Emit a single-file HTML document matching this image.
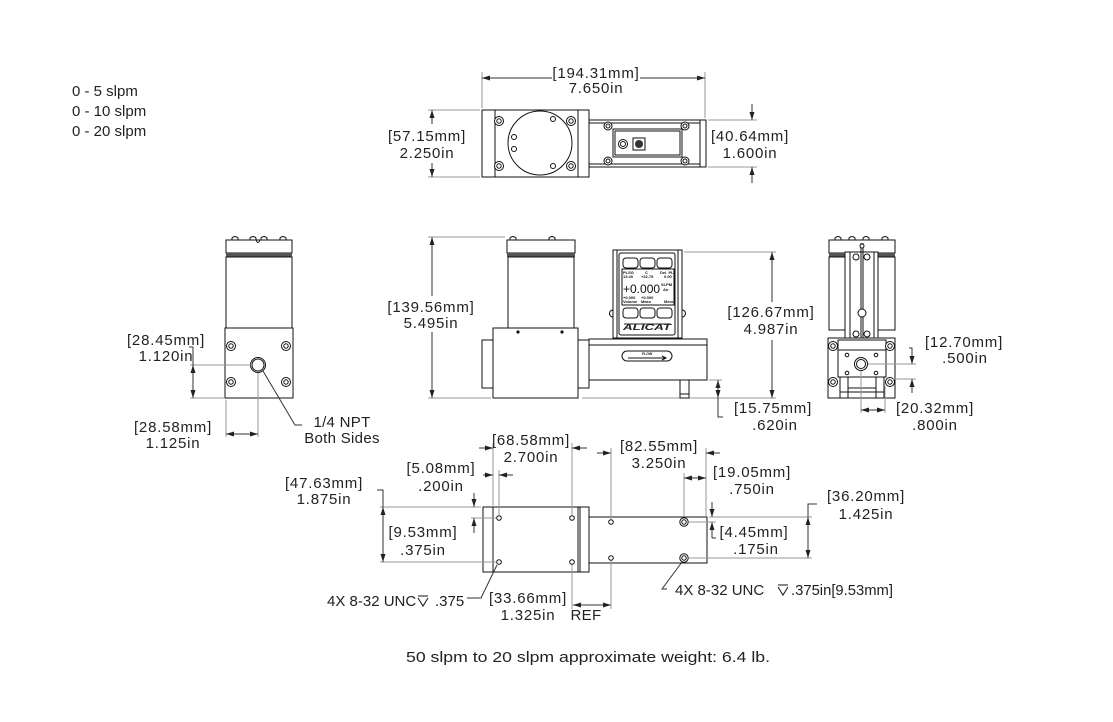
<!DOCTYPE html>
<html><head><meta charset="utf-8"><style>
html,body{margin:0;padding:0;background:#fff}
svg{display:block}
.k{stroke:#111;stroke-width:1;fill:none}
.w{stroke:#111;stroke-width:1;fill:#fff}
.e{stroke:#9a9a9a;stroke-width:1;fill:none}
.d{stroke:#333;stroke-width:1;fill:none}
.t{font-family:"Liberation Sans",sans-serif;font-size:15px;fill:#222;letter-spacing:0.8px;text-anchor:middle}
.n{font-family:"Liberation Sans",sans-serif;font-size:15px;fill:#222}
.s{font-family:"Liberation Sans",sans-serif;fill:#111;font-weight:bold}
</style></head><body>
<svg width="1113" height="722" viewBox="0 0 1113 722" xmlns="http://www.w3.org/2000/svg">
<defs>
<marker id="a" viewBox="0 0 8 5" refX="8" refY="2.5" markerWidth="8" markerHeight="5" markerUnits="userSpaceOnUse" orient="auto"><path d="M0,0 L8,2.5 L0,5 z" fill="#222"/></marker>
</defs>
<rect width="1113" height="722" fill="#fff"/>

<!-- top-left ranges -->
<text class="n" x="72" y="96">0 - 5 slpm</text>
<text class="n" x="72" y="116">0 - 10 slpm</text>
<text class="n" x="72" y="136">0 - 20 slpm</text>

<!-- ================= TOP VIEW ================= -->
<line class="e" x1="482" y1="72" x2="482" y2="108"/>
<line class="e" x1="705" y1="72" x2="705" y2="118"/>
<line class="d" x1="552" y1="78" x2="482" y2="78" marker-end="url(#a)"/>
<line class="d" x1="640" y1="78" x2="705" y2="78" marker-end="url(#a)"/>
<text class="t" x="596" y="78">[194.31mm]</text>
<text class="t" x="596" y="93">7.650in</text>

<line class="e" x1="428" y1="110" x2="480" y2="110"/>
<line class="e" x1="428" y1="177" x2="480" y2="177"/>
<line class="d" x1="432" y1="124" x2="432" y2="110" marker-end="url(#a)"/>
<line class="d" x1="432" y1="163" x2="432" y2="177" marker-end="url(#a)"/>
<text class="t" x="427" y="141">[57.15mm]</text>
<text class="t" x="427" y="158">2.250in</text>

<line class="e" x1="708" y1="120" x2="757" y2="120"/>
<line class="e" x1="708" y1="167" x2="757" y2="167"/>
<line class="d" x1="752" y1="104" x2="752" y2="120" marker-end="url(#a)"/>
<line class="d" x1="752" y1="183" x2="752" y2="167" marker-end="url(#a)"/>
<text class="t" x="750" y="141">[40.64mm]</text>
<text class="t" x="750" y="158">1.600in</text>

<!-- right body (top) -->
<rect class="w" x="589" y="120" width="117" height="47"/>
<line class="k" x1="589" y1="123" x2="700" y2="123"/>
<line class="k" x1="589" y1="164" x2="700" y2="164"/>
<line class="k" x1="700" y1="120" x2="700" y2="167"/>
<rect class="w" x="613" y="129" width="69" height="28"/>
<rect class="k" x="615" y="131" width="65" height="24"/>
<circle class="w" cx="623" cy="144" r="4.5"/><circle class="k" cx="623" cy="144" r="2.5"/>
<rect class="w" x="633" y="138" width="12" height="12" stroke-width="1.5"/>
<circle cx="639" cy="144" r="4" fill="#333"/>
<g class="w" stroke-width="1.2">
<circle cx="608" cy="126" r="4"/><circle cx="608" cy="161" r="4"/><circle cx="685" cy="126" r="4"/><circle cx="685" cy="161" r="4"/>
</g>
<g class="k"><circle cx="608" cy="126" r="2"/><circle cx="608" cy="161" r="2"/><circle cx="685" cy="126" r="2"/><circle cx="685" cy="161" r="2"/></g>
<!-- left body (top) -->
<rect class="w" x="482" y="110" width="107" height="67"/>
<line class="k" x1="495" y1="110" x2="495" y2="177"/>
<line class="k" x1="578" y1="110" x2="578" y2="177"/>
<circle class="k" cx="540" cy="143" r="32"/>
<g class="w" stroke-width="1.2">
<circle cx="499" cy="121" r="4.5"/><circle cx="571" cy="121" r="4.5"/><circle cx="499" cy="166" r="4.5"/><circle cx="571" cy="166" r="4.5"/>
</g>
<g class="k"><circle cx="499" cy="121" r="2.2"/><circle cx="571" cy="121" r="2.2"/><circle cx="499" cy="166" r="2.2"/><circle cx="571" cy="166" r="2.2"/></g>
<g class="w" stroke-width="1.3"><circle cx="553" cy="119" r="2.5"/><circle cx="553" cy="166" r="2.5"/><circle cx="514" cy="137" r="2.5"/><circle cx="514" cy="149" r="2.5"/></g>

<!-- ================= LEFT SIDE VIEW ================= -->
<g class="w">
<path d="M232,240 v-2 q3,-3 6,0 v2 z"/><path d="M250,240 v-2 q3,-3 6,0 v2 z"/><path d="M261,240 v-2 q3,-3 6,0 v2 z"/><path d="M280,240 v-2 q3,-3 6,0 v2 z"/>
</g>
<rect class="w" x="226" y="240" width="66" height="13"/>
<path class="k" d="M256,240 q2,5 4,0"/>
<rect x="226" y="253" width="66" height="4" fill="#555"/>
<rect class="w" x="226" y="257" width="66" height="71"/>
<rect class="w" x="225" y="328" width="68" height="70"/>
<g class="w" stroke-width="1.3">
<circle cx="231" cy="346" r="4.5"/><circle cx="286" cy="346" r="4.5"/><circle cx="231" cy="382" r="4.5"/><circle cx="286" cy="382" r="4.5"/>
</g>
<g class="k"><circle cx="231" cy="346" r="2.2"/><circle cx="286" cy="346" r="2.2"/><circle cx="231" cy="382" r="2.2"/><circle cx="286" cy="382" r="2.2"/></g>
<circle class="w" cx="258" cy="365" r="7.5" stroke-width="1.3"/>
<circle class="k" cx="258" cy="365" r="6"/>

<line class="e" x1="190" y1="365" x2="251" y2="365"/>
<line class="e" x1="190" y1="398" x2="224" y2="398"/>
<line class="d" x1="189" y1="347" x2="193" y2="347"/>
<line class="d" x1="193" y1="347" x2="193" y2="365"/>
<line class="d" x1="193" y1="380" x2="193" y2="365" marker-end="url(#a)"/>
<line class="d" x1="193" y1="380" x2="193" y2="398" marker-end="url(#a)"/>
<text class="t" x="166" y="345">[28.45mm]</text>
<text class="t" x="166" y="361">1.120in</text>

<line class="e" x1="226" y1="400" x2="226" y2="437"/>
<line class="e" x1="258" y1="373" x2="258" y2="437"/>
<line class="d" x1="242" y1="434" x2="226" y2="434" marker-end="url(#a)"/>
<line class="d" x1="242" y1="434" x2="258" y2="434" marker-end="url(#a)"/>
<text class="t" x="173" y="432">[28.58mm]</text>
<text class="t" x="173" y="448">1.125in</text>

<polyline class="d" points="263,371 295,425 302,425"/>
<text class="t" x="342" y="427" style="letter-spacing:0.3px">1/4 NPT</text>
<text class="t" x="342" y="443" style="letter-spacing:0.3px">Both Sides</text>

<!-- ================= FRONT VIEW ================= -->
<line class="e" x1="428" y1="237" x2="505" y2="237"/>
<line class="e" x1="428" y1="398" x2="491" y2="398"/>
<line class="d" x1="432" y1="296" x2="432" y2="237" marker-end="url(#a)"/>
<line class="d" x1="432" y1="332" x2="432" y2="398" marker-end="url(#a)"/>
<text class="t" x="431" y="312">[139.56mm]</text>
<text class="t" x="431" y="328">5.495in</text>

<line class="e" x1="684" y1="252" x2="776" y2="252"/>
<line class="e" x1="582" y1="398" x2="776" y2="398"/>
<line class="d" x1="772" y1="302" x2="772" y2="252" marker-end="url(#a)"/>
<line class="d" x1="772" y1="340" x2="772" y2="398" marker-end="url(#a)"/>
<text class="t" x="771" y="317">[126.67mm]</text>
<text class="t" x="771" y="334">4.987in</text>

<line class="e" x1="709" y1="380" x2="722" y2="380"/>
<line class="d" x1="718" y1="398" x2="718" y2="380" marker-end="url(#a)"/>
<line class="d" x1="718" y1="380" x2="718" y2="398" marker-end="url(#a)"/>
<polyline class="d" points="718,398 718,417 723,417"/>
<text class="t" x="773" y="413">[15.75mm]</text>
<text class="t" x="775" y="430">.620in</text>

<!-- cylinder -->
<g class="w"><path d="M510,240 v-2 q3,-3 6,0 v2 z"/><path d="M549,240 v-2 q3,-3 6,0 v2 z"/></g>
<rect class="w" x="507" y="240" width="68" height="13"/>
<rect x="507" y="253" width="68" height="4" fill="#555"/>
<rect class="w" x="508" y="257" width="66" height="71"/>
<!-- fitting + block -->
<rect class="w" x="482" y="340" width="107" height="48"/>
<rect class="w" x="493" y="328" width="85" height="70"/>
<circle cx="518" cy="332" r="1.6" fill="#111"/><circle cx="562" cy="332" r="1.6" fill="#111"/>
<!-- display -->
<path class="w" d="M613,310 a3,3 0 0 0 0,7 z"/><path class="w" d="M682,310 a3,3 0 0 1 0,7 z"/>
<rect class="w" x="613" y="250" width="69" height="88"/>
<line class="k" x1="617" y1="250" x2="617" y2="338"/>
<line class="k" x1="678" y1="250" x2="678" y2="338"/>
<rect class="k" x="619" y="253" width="56" height="82" rx="2"/>
<g class="w" stroke-width="1.2">
<rect x="623" y="258" width="15" height="10" rx="3"/><rect x="640" y="258" width="15" height="10" rx="3"/><rect x="657" y="258" width="15" height="10" rx="3"/>
<rect x="623" y="308" width="15" height="10" rx="3"/><rect x="640" y="308" width="15" height="10" rx="3"/><rect x="657" y="308" width="15" height="10" rx="3"/>
</g>
<rect class="k" x="622" y="269" width="52" height="36"/>
<text class="s" x="623" y="274" font-size="4">PLSG</text>
<text class="s" x="645" y="274" font-size="4">C</text>
<text class="s" x="660" y="274" font-size="4">Del. PL</text>
<text class="s" x="623" y="278" font-size="4">13.40</text>
<text class="s" x="641" y="278" font-size="4">+22.75</text>
<text class="s" x="664" y="278" font-size="4">0.00</text>
<text x="623" y="293" font-family="Liberation Sans,sans-serif" font-size="12" fill="#111">+0.000</text>
<text class="s" x="661" y="286" font-size="4">SLPM</text>
<text class="s" x="663" y="291" font-size="4">Air</text>
<text class="s" x="623" y="299" font-size="4">+0.000</text>
<text class="s" x="623" y="303" font-size="4">Volume</text>
<text class="s" x="641" y="299" font-size="4">+0.000</text>
<text class="s" x="641" y="303" font-size="4">Mass</text>
<text class="s" x="664" y="303" font-size="4">Menu</text>
<text x="623" y="330" font-family="Liberation Sans,sans-serif" font-size="8" font-weight="bold" font-style="italic" fill="#222" textLength="48" lengthAdjust="spacingAndGlyphs">ALICAT</text>
<line x1="624" y1="324" x2="671" y2="324" stroke="#222" stroke-width="1"/>
<!-- right body -->
<rect class="w" x="589" y="339" width="118" height="41"/>
<line class="k" x1="589" y1="345" x2="707" y2="345"/>
<rect class="w" x="622" y="351" width="50" height="10" rx="5"/>
<text class="s" x="642" y="355" font-size="3.5">FLOW</text>
<line class="k" x1="628" y1="358" x2="665" y2="358"/>
<path class="k" d="M662,356 L666,358 L662,360"/>
<rect class="w" x="680" y="380" width="9" height="18"/>
<line class="k" x1="680" y1="394" x2="689" y2="394"/>

<!-- ================= RIGHT VIEW ================= -->
<g class="w"><path d="M835,240 v-2 q3,-3 6,0 v2 z"/><path d="M849,240 v-2 q3,-3 6,0 v2 z"/><path d="M863,240 v-2 q3,-3 6,0 v2 z"/><path d="M882,240 v-2 q3,-3 6,0 v2 z"/></g>
<rect class="w" x="829" y="240" width="66" height="13"/>
<rect x="829" y="253" width="66" height="4" fill="#555"/>
<rect class="w" x="829" y="257" width="66" height="73"/>
<rect class="w" x="845" y="252" width="33" height="86"/>
<line class="k" x1="850" y1="252" x2="850" y2="338"/>
<line class="k" x1="874" y1="252" x2="874" y2="338"/>
<line class="k" x1="861" y1="243" x2="861" y2="338"/>
<line class="k" x1="863" y1="243" x2="863" y2="338"/>
<circle class="w" cx="862" cy="246" r="2"/>
<g class="w" stroke-width="1.2"><circle cx="856" cy="257" r="3"/><circle cx="867" cy="257" r="3"/><circle cx="856" cy="334" r="3"/><circle cx="867" cy="334" r="3"/></g>
<circle class="w" cx="862" cy="313" r="4"/>
<rect class="w" x="828" y="338" width="67" height="60"/>
<rect class="w" x="838" y="340" width="48" height="37"/>
<line class="k" x1="838" y1="350" x2="886" y2="350"/>
<rect class="w" x="840" y="377" width="8" height="21"/>
<rect class="w" x="876" y="377" width="8" height="21"/>
<line class="k" x1="848" y1="388" x2="876" y2="388"/>
<line class="k" x1="840" y1="392" x2="884" y2="392"/>
<g class="w" stroke-width="1.3"><circle cx="833" cy="346" r="4.5"/><circle cx="890" cy="346" r="4.5"/><circle cx="833" cy="382" r="4.5"/><circle cx="890" cy="382" r="4.5"/></g>
<g class="k"><circle cx="833" cy="346" r="2.2"/><circle cx="890" cy="346" r="2.2"/><circle cx="833" cy="382" r="2.2"/><circle cx="890" cy="382" r="2.2"/></g>
<circle class="w" cx="861" cy="364" r="6.5" stroke-width="1.5"/>
<circle class="k" cx="861" cy="364" r="4.5"/>
<g class="w"><circle cx="847" cy="355" r="1.8"/><circle cx="876" cy="355" r="1.8"/><circle cx="847" cy="373" r="1.8"/><circle cx="876" cy="373" r="1.8"/></g>

<line class="e" x1="868" y1="364" x2="916" y2="364"/>
<line class="e" x1="893" y1="379" x2="916" y2="379"/>
<polyline class="d" points="909,348 912,348 912,350"/>
<line class="d" x1="912" y1="348" x2="912" y2="364" marker-end="url(#a)"/>
<line class="d" x1="912" y1="393" x2="912" y2="379" marker-end="url(#a)"/>
<text class="t" x="964" y="347">[12.70mm]</text>
<text class="t" x="965" y="363">.500in</text>

<line class="e" x1="861" y1="371" x2="861" y2="413"/>
<line class="e" x1="885" y1="386" x2="885" y2="413"/>
<line class="d" x1="873" y1="410" x2="861" y2="410" marker-end="url(#a)"/>
<line class="d" x1="873" y1="410" x2="885" y2="410" marker-end="url(#a)"/>
<text class="t" x="935" y="413">[20.32mm]</text>
<text class="t" x="935" y="430">.800in</text>

<!-- ================= BOTTOM VIEW ================= -->
<rect class="w" x="589" y="517" width="118" height="46"/>
<g class="w" stroke-width="1.3"><circle cx="611" cy="522" r="2.3"/><circle cx="611" cy="558" r="2.3"/></g>
<g class="w" stroke-width="1.3"><circle cx="684" cy="522" r="4.2"/><circle cx="684" cy="558" r="4.2"/></g>
<g class="k"><circle cx="684" cy="522" r="2.2"/><circle cx="684" cy="558" r="2.2"/></g>
<rect class="w" x="483" y="507" width="106" height="65"/>
<line class="k" x1="493" y1="507" x2="493" y2="572"/>
<line class="k" x1="578" y1="507" x2="578" y2="572"/>
<line class="k" x1="580" y1="507" x2="580" y2="572"/>
<g class="w" stroke-width="1.3"><circle cx="499" cy="518" r="2.3"/><circle cx="572" cy="518" r="2.3"/><circle cx="499" cy="562" r="2.3"/><circle cx="572" cy="562" r="2.3"/></g>

<!-- 68.58 -->
<line class="e" x1="493" y1="443" x2="493" y2="507"/>
<line class="e" x1="572" y1="443" x2="572" y2="515"/>
<line class="e" x1="572" y1="565" x2="572" y2="609"/>
<line class="d" x1="479" y1="448" x2="493" y2="448" marker-end="url(#a)"/>
<line class="d" x1="587" y1="448" x2="572" y2="448" marker-end="url(#a)"/>
<text class="t" x="531" y="445">[68.58mm]</text>
<text class="t" x="531" y="462">2.700in</text>
<!-- 5.08 -->
<line class="e" x1="499" y1="470" x2="499" y2="515"/>
<line class="d" x1="483" y1="475" x2="493" y2="475" marker-end="url(#a)"/>
<line class="d" x1="513" y1="475" x2="499" y2="475" marker-end="url(#a)"/>
<text class="t" x="441" y="473">[5.08mm]</text>
<text class="t" x="441" y="491">.200in</text>
<!-- 47.63 -->
<line class="e" x1="380" y1="507" x2="481" y2="507"/>
<line class="e" x1="380" y1="562" x2="496" y2="562"/>
<polyline class="d" points="377,490 383,490 383,507"/>
<line class="d" x1="383" y1="534" x2="383" y2="507" marker-end="url(#a)"/>
<line class="d" x1="383" y1="534" x2="383" y2="562" marker-end="url(#a)"/>
<text class="t" x="324" y="488">[47.63mm]</text>
<text class="t" x="324" y="504">1.875in</text>
<!-- 9.53 -->
<line class="e" x1="471" y1="518" x2="496" y2="518"/>
<line class="d" x1="474" y1="493" x2="474" y2="507" marker-end="url(#a)"/>
<line class="d" x1="474" y1="533" x2="474" y2="518" marker-end="url(#a)"/>
<text class="t" x="423" y="537">[9.53mm]</text>
<text class="t" x="423" y="555">.375in</text>
<!-- 33.66 REF -->
<line class="d" x1="592" y1="605" x2="573" y2="605" marker-end="url(#a)"/>
<line class="d" x1="592" y1="605" x2="611" y2="605" marker-end="url(#a)"/>
<text class="t" x="528" y="603">[33.66mm]</text>
<text class="t" x="528" y="620">1.325in</text>
<text class="t" x="586" y="620" style="letter-spacing:0.3px">REF</text>
<!-- leader left -->
<polyline class="d" points="497,565 481,598 467,598"/>
<text class="n" x="327" y="606">4X 8-32 UNC</text>
<g class="k"><line x1="418" y1="596" x2="428" y2="596"/><polyline points="418,598 423,606 428,598"/></g>
<text class="n" x="435" y="606">.375</text>

<!-- 82.55 -->
<line class="e" x1="611" y1="448" x2="611" y2="519"/>
<line class="e" x1="611" y1="561" x2="611" y2="609"/>
<line class="e" x1="706" y1="448" x2="706" y2="516"/>
<line class="d" x1="597" y1="453" x2="611" y2="453" marker-end="url(#a)"/>
<line class="d" x1="720" y1="453" x2="706" y2="453" marker-end="url(#a)"/>
<text class="t" x="659" y="451">[82.55mm]</text>
<text class="t" x="659" y="468">3.250in</text>
<!-- 19.05 -->
<line class="e" x1="684" y1="473" x2="684" y2="517"/>
<line class="d" x1="695" y1="478" x2="684" y2="478" marker-end="url(#a)"/>
<line class="d" x1="695" y1="478" x2="706" y2="478" marker-end="url(#a)"/>
<text class="t" x="752" y="477">[19.05mm]</text>
<text class="t" x="752" y="494">.750in</text>
<!-- 36.20 -->
<line class="e" x1="709" y1="517" x2="812" y2="517"/>
<line class="e" x1="689" y1="558" x2="812" y2="558"/>
<polyline class="d" points="817,504 808,504 808,517"/>
<line class="d" x1="808" y1="538" x2="808" y2="517" marker-end="url(#a)"/>
<line class="d" x1="808" y1="538" x2="808" y2="558" marker-end="url(#a)"/>
<text class="t" x="866" y="501">[36.20mm]</text>
<text class="t" x="866" y="519">1.425in</text>
<!-- 4.45 -->
<line class="e" x1="689" y1="522" x2="716" y2="522"/>
<line class="d" x1="712" y1="502" x2="712" y2="517" marker-end="url(#a)"/>
<line class="d" x1="712" y1="538" x2="712" y2="522" marker-end="url(#a)"/>
<line class="d" x1="712" y1="538" x2="716" y2="538"/>
<text class="t" x="754" y="537">[4.45mm]</text>
<text class="t" x="756" y="554">.175in</text>
<!-- leader right -->
<polyline class="d" points="682,562 662,589 667,589"/>
<text class="n" x="675" y="595">4X 8-32 UNC</text>
<g class="k"><line x1="778" y1="585" x2="788" y2="585"/><polyline points="778,587 783,595 788,587"/></g>
<text class="n" x="791" y="595" textLength="102" lengthAdjust="spacingAndGlyphs">.375in[9.53mm]</text>

<!-- caption -->
<text class="n" x="406" y="662" textLength="364" lengthAdjust="spacingAndGlyphs">50 slpm to 20 slpm approximate weight: 6.4 lb.</text>
</svg>
</body></html>
